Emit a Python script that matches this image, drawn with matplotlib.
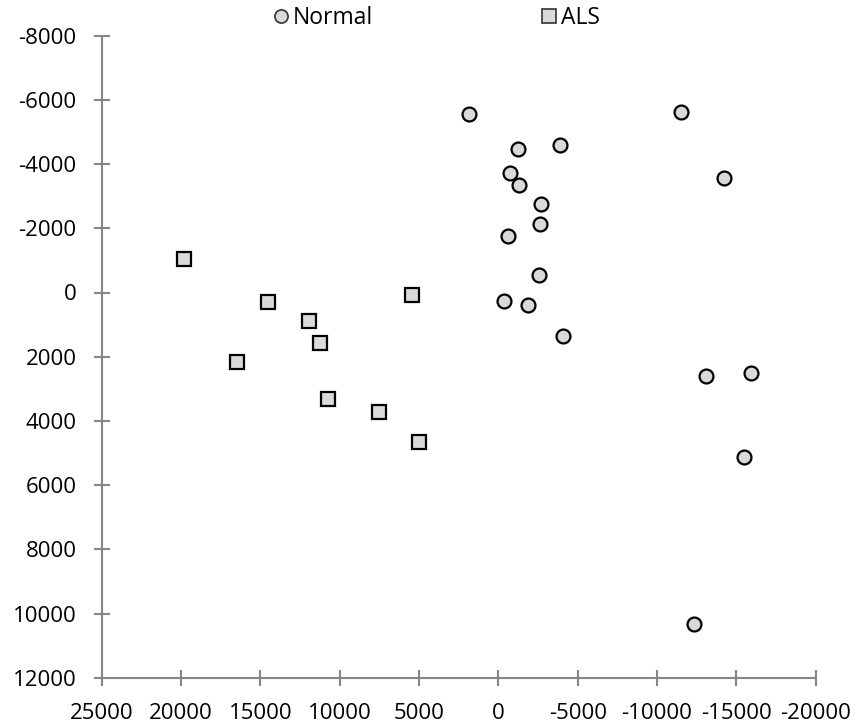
import matplotlib.pyplot as plt
from matplotlib.lines import Line2D

# Normal group (x, y)
normal_x = [1830, -1260, -3870, -740, -1280, -2710, -2630, -610, -2580, -340,
            -1850, -4080, -11530, -14240, -13110, -15940, -15480, -12350]
normal_y = [-5550, -4480, -4590, -3730, -3340, -2750, -2140, -1770, -560, 270,
            400, 1350, -5610, -3570, 2600, 2500, 5110, 10330]

# ALS group
als_x = [19810, 14500, 11950, 11240, 5460, 16450, 10760, 7540, 5020]
als_y = [-1040, 300, 890, 1580, 70, 2170, 3310, 3710, 4670]

xticks = list(range(25000, -20001, -5000))
yticks = list(range(-8000, 12001, 2000))

plt.rcParams['font.family'] = ['Open Sans', 'DejaVu Sans']

fig = plt.figure(figsize=(8.56, 7.28), dpi=100)
ax = fig.add_axes([101.7/856, 1 - 677.7/728, (815.7 - 101.7)/856, (677.7 - 35.7)/728])

face = '#d9d9d9'
ax.plot(normal_x, normal_y, 'o', ms=10, mfc=face, mec='black', mew=1.6, clip_on=False)
ax.plot(als_x, als_y, 's', ms=10, mfc=face, mec='black', mew=1.6, clip_on=False)

ax.set_xlim(25000, -20000)
ax.set_ylim(12000, -8000)
ax.set_xticks(xticks)
ax.set_yticks(yticks)
ax.set_xticklabels([str(v) for v in xticks])
ax.set_yticklabels([str(v) for v in yticks])

for s in ['top', 'right']:
    ax.spines[s].set_visible(False)
for s in ['left', 'bottom']:
    ax.spines[s].set_color('#868686')
    ax.spines[s].set_linewidth(1.5)

ax.tick_params(axis='both', direction='inout', length=12, width=1.5,
               color='#868686', labelsize=16)
ax.tick_params(axis='x', pad=12)
ax.tick_params(axis='y', pad=12)

handles = [
    Line2D([], [], ls='none', marker='o', ms=9.5, mfc=face, mec='#333333', mew=1.2),
    Line2D([], [], ls='none', marker='s', ms=9.5, mfc=face, mec='#333333', mew=1.2),
]
fig.legend(handles, ['Normal', 'ALS'], ncol=2, frameon=False, fontsize=16.5,
           loc='center left', bbox_to_anchor=(249/856, 0.975), columnspacing=7.2,
           handletextpad=0.0, handlelength=1.0)

fig.savefig('out.png', dpi=100)
